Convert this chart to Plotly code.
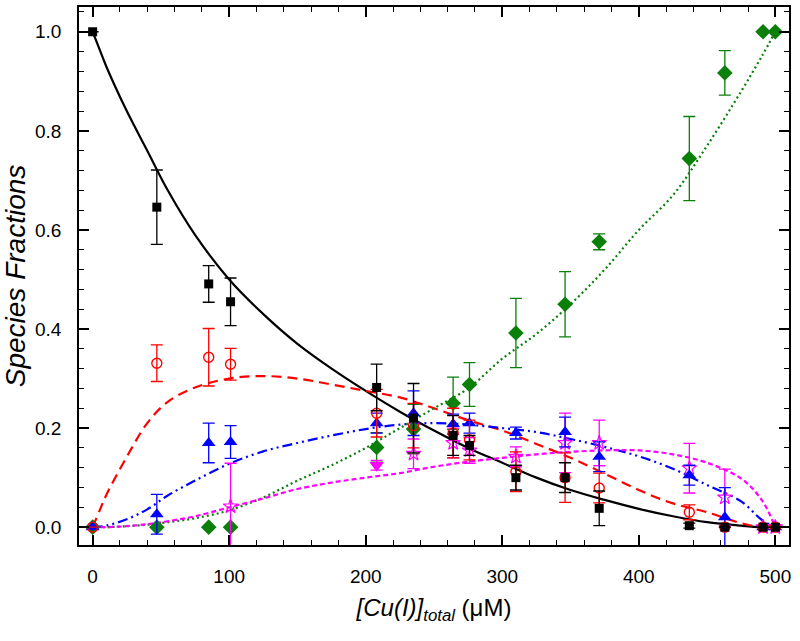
import plotly.graph_objects as go

# measured points: total Cu(I) concentration (uM)
conc = [0, 47, 85, 101, 208, 235, 264, 276, 310, 346, 371, 437, 463, 491, 500]

black_y = [1.0, 0.646, 0.491, 0.455, 0.282, 0.22, 0.185, 0.165, 0.1, 0.1, 0.038, 0.003, 0.0, 0.0, 0.0]
black_err = [0, 0.075, 0.037, 0.048, 0.047, 0.07, 0.04, 0.02, 0.025, 0.03, 0.035, 0.005, 0, 0, 0]

red_y = [0.0, 0.331, 0.343, 0.329, 0.23, 0.205, 0.19, 0.176, 0.112, 0.1, 0.079, 0.03, 0.0, 0.0, 0.0]
red_err = [0, 0.037, 0.058, 0.032, 0.048, 0.045, 0.05, 0.04, 0.04, 0.05, 0.03, 0.015, 0, 0, 0]

blue_y = [0.0, 0.026, 0.17, 0.172, 0.21, 0.23, 0.208, 0.21, 0.19, 0.192, 0.142, 0.105, 0.02, 0.0, 0.0]
blue_err = [0, 0.04, 0.04, 0.033, 0.02, 0.045, 0.02, 0.02, 0.012, 0.03, 0.03, 0.02, 0.06, 0, 0]

mag_x = [101, 208, 235, 264, 276, 310, 346, 371, 437, 463, 491, 500]
mag_y = [0.042, 0.125, 0.148, 0.17, 0.155, 0.142, 0.17, 0.17, 0.119, 0.06, 0.0, 0.0]
mag_err = [0.087, 0.01, 0.03, 0.03, 0.026, 0.02, 0.06, 0.046, 0.05, 0.057, 0, 0]
mag_symbols = ["star-open", "triangle-down"] + ["star-open"] * 10

green_y = [0.0, 0.0, 0.0, 0.0, 0.161, 0.198, 0.25, 0.288, 0.392, 0.45, 0.576, 0.744, 0.917, 1.0, 1.0]
green_err = [0, 0, 0, 0, 0.03, 0.05, 0.053, 0.044, 0.07, 0.066, 0.016, 0.085, 0.045, 0, 0]

# fitted curves
fit_x = [0, 5, 10, 25, 40, 55, 75, 100, 125, 150, 175, 200, 225, 250, 275, 300,
         325, 350, 375, 400, 425, 450, 475, 490, 500]
fit_black = [1.0, 0.965, 0.93, 0.84, 0.76, 0.68, 0.59, 0.50, 0.43, 0.37, 0.32, 0.275, 0.233,
             0.195, 0.16, 0.13, 0.10, 0.075, 0.055, 0.037, 0.022, 0.01, 0.003, 0.0, 0.0]
fit_red = [0.0, 0.033, 0.065, 0.142, 0.21, 0.253, 0.282, 0.30, 0.305, 0.30, 0.288, 0.275,
           0.262, 0.24, 0.216, 0.195, 0.168, 0.14, 0.108, 0.075, 0.048, 0.03, 0.008, 0.0, 0.0]
fit_blue = [0.0, 0.001, 0.003, 0.016, 0.036, 0.064, 0.094, 0.128, 0.153, 0.17, 0.185, 0.198,
            0.207, 0.21, 0.207, 0.2, 0.192, 0.178, 0.162, 0.143, 0.118, 0.085, 0.052, 0.015, 0.0]
fit_green = [0.0, 0.0, 0.0, 0.002, 0.005, 0.01, 0.018, 0.034, 0.06, 0.094, 0.125, 0.16, 0.2,
             0.24, 0.28, 0.34, 0.39, 0.45, 0.52, 0.6, 0.67, 0.77, 0.88, 0.95, 1.0]
fit_mag = [0.0, 0.0, 0.0, 0.002, 0.006, 0.012, 0.022, 0.04, 0.058, 0.077, 0.09, 0.1, 0.109,
           0.122, 0.132, 0.14, 0.147, 0.152, 0.155, 0.155, 0.147, 0.13, 0.098, 0.055, 0.0]

RED = "#ff0000"
BLUE = "#0000ff"
MAG = "#ff00ff"
GREEN = "#0a7f0a"

fig = go.Figure()

# curves
curves = [
    (fit_black, "black", "solid"),
    (fit_red, RED, "10px,6px"),
    (fit_blue, BLUE, "10px,4px,2px,4px,2px,4px"),
    (fit_green, GREEN, "2px,3px"),
    (fit_mag, MAG, "5px,3px"),
]
for ys, col, dash in curves:
    fig.add_trace(go.Scatter(x=fit_x, y=ys, mode="lines",
                             line=dict(color=col, width=2.2, dash=dash, shape="spline"),
                             hoverinfo="skip"))


def err(arr, col):
    return dict(type="data", array=arr, visible=True, color=col, thickness=1.3, width=6)


fig.add_trace(go.Scatter(x=conc, y=green_y, mode="markers", error_y=err(green_err, GREEN),
                         marker=dict(symbol="diamond", size=12, color=GREEN)))
fig.add_trace(go.Scatter(x=mag_x, y=mag_y, mode="markers", error_y=err(mag_err, MAG),
                         marker=dict(symbol=mag_symbols, size=11, color=MAG,
                                     line=dict(color=MAG, width=1.2))))
fig.add_trace(go.Scatter(x=conc, y=blue_y, mode="markers", error_y=err(blue_err, BLUE),
                         marker=dict(symbol="triangle-up", size=12, color=BLUE)))
fig.add_trace(go.Scatter(x=conc, y=red_y, mode="markers", error_y=err(red_err, RED),
                         marker=dict(symbol="circle-open", size=10, color=RED,
                                     line=dict(color=RED, width=1.4))))
fig.add_trace(go.Scatter(x=conc, y=black_y, mode="markers", error_y=err(black_err, "black"),
                         marker=dict(symbol="square", size=9, color="black")))

axis_common = dict(
    showline=True, linecolor="black", linewidth=1.5, mirror="allticks",
    ticks="inside", ticklen=10, tickwidth=1.5, tickcolor="black",
    showgrid=False, zeroline=False, automargin=False,
    tickfont=dict(size=19, color="black"),
)

fig.update_xaxes(range=[-10, 510], dtick=100, tick0=0,
                 minor=dict(dtick=20, ticks="inside", ticklen=5, tickwidth=1.2, tickcolor="black"),
                 title=dict(text="<i>[Cu(I)]<sub>total</sub></i> (μM)", font=dict(size=24), standoff=14),
                 ticklabelstandoff=13,
                 **axis_common)
fig.update_yaxes(range=[-0.036, 1.05], dtick=0.2, tick0=0, tickformat=".1f",
                 minor=dict(dtick=0.04, ticks="inside", ticklen=5, tickwidth=1.2, tickcolor="black"),
                 title=dict(text="<i>Species Fractions</i>", font=dict(size=28), standoff=4),
                 ticklabelstandoff=12,
                 **axis_common)

fig.update_layout(
    width=800, height=641,
    margin=dict(l=79, r=11, t=7, b=96),
    paper_bgcolor="white", plot_bgcolor="white",
    showlegend=False,
    font=dict(family="Arial, Liberation Sans, sans-serif", color="black"),
)

# drop the default page margin so the figure sits at the window corner
fig.write_html("out.html", config={"displayModeBar": False},
               post_script="document.body.style.margin='0';")
